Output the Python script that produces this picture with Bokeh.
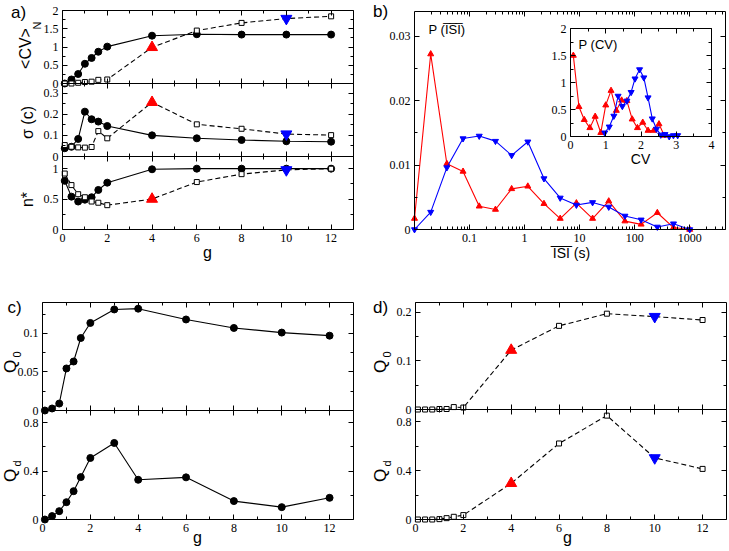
import math
from bokeh.plotting import figure
from bokeh.models import (Range1d, LinearAxis, LogAxis, FixedTicker, CustomJSTickFormatter,
                          Label, LinearScale, LogScale)
from bokeh.embed import file_html
from bokeh.resources import INLINE

# ---------------- data ----------------
g = [0.1, 0.4, 0.7, 1.0, 1.3, 1.6, 2, 4, 6, 8, 10, 12]
cv_solid = [0.0, 0.11, 0.26, 0.54, 0.70, 0.87, 1.01, 1.31, 1.35, 1.34, 1.34, 1.34]
cv_dash = [0.0, 0.0, 0.02, 0.04, 0.05, 0.10, 0.11, 0.99, 1.45, 1.66, 1.78, 1.84]
sig_solid = [0.039, 0.046, 0.083, 0.212, 0.176, 0.165, 0.144, 0.100, 0.086, 0.078, 0.072, 0.070]
sig_dash = [0.054, 0.046, 0.043, 0.042, 0.045, 0.120, 0.086, 0.256, 0.152, 0.131, 0.106, 0.101]
n_solid = [0.80, 0.54, 0.46, 0.49, 0.53, 0.65, 0.77, 0.99, 1.0, 1.0, 1.0, 1.0]
n_dash = [0.92, 0.73, 0.58, 0.53, 0.46, 0.44, 0.40, 0.50, 0.78, 0.91, 0.98, 1.0]
RED_G = 4
BLUE_G = 10

isi_x = [0.01, 0.0197, 0.0387, 0.0762, 0.150, 0.296, 0.582, 1.145, 2.25, 4.44, 8.74,
         17.2, 33.8, 66.6, 131, 258, 508, 1000]
p_isi_red = [0.0017, 0.0272, 0.0102, 0.0090, 0.0036, 0.0031, 0.0063, 0.0067, 0.0040, 0.0017,
             0.0041, 0.0017, 0.0044, 0.0013, 0.0008, 0.0026, 0.0003, 0.0]
p_isi_blue = [0.0, 0.0027, 0.0096, 0.0141, 0.0145, 0.0137, 0.0115, 0.0136, 0.0079, 0.0049,
              0.0038, 0.0042, 0.0035, 0.0021, 0.0015, 0.0004, 0.0009, 0.0]

cv_red_x = [0.08, 0.24, 0.39, 0.55, 0.70, 0.86, 1.0, 1.15, 1.3, 1.45, 1.6, 1.75, 1.9, 2.05,
            2.2, 2.36, 2.51, 2.66]
cv_red_y = [1.50, 0.55, 0.31, 0.16, 0.37, 0.07, 0.58, 0.85, 0.48, 0.67, 0.66, 0.32, 0.16,
            0.26, 0.11, 0.11, 0.23, 0.02]
cv_blue_x = [0.97, 1.10, 1.23, 1.35, 1.47, 1.60, 1.72, 1.83, 1.96, 2.08, 2.20, 2.32, 2.44,
             2.56, 2.68, 2.80, 2.92, 3.04]
cv_blue_y = [0.07, 0.18, 0.38, 0.75, 0.56, 0.66, 0.82, 1.07, 1.24, 1.09, 0.72, 0.33, 0.14,
             0.03, 0.04, 0.0, 0.02, 0.02]

gc = [0.1, 0.4, 0.7, 1.0, 1.3, 1.6, 2, 3, 4, 6, 8, 10, 12]
q0_c = [0.0, 0.0026, 0.009, 0.0545, 0.0635, 0.094, 0.1135, 0.131, 0.132, 0.118, 0.107, 0.101, 0.097]
qd_c = [0.0, 0.028, 0.069, 0.143, 0.234, 0.35, 0.508, 0.632, 0.328, 0.348, 0.152, 0.102, 0.179]

q0_d = [0.0, 0.0, 0.0, 0.001, 0.001, 0.005, 0.004, 0.122, 0.172, 0.197, 0.191, 0.184]
qd_d = [0.0, 0.0, 0.0, 0.003, 0.011, 0.022, 0.036, 0.296, 0.622, 0.85, 0.504, 0.414]

g_ticks = [0, 2, 4, 6, 8, 10, 12]
g_minor = [1, 3, 5, 7, 9, 11]

RED = "#ff0000"
BLUE = "#0000ff"
SERIF = "'Liberation Serif'"
SANS = "'Liberation Sans'"
FMT = "return String(Math.round(tick*1e6)/1e6);"

# ---------------- one canvas, one coordinate system per sub-plot ----------------
W, H = 728, 550
p = figure(width=W, height=H, x_range=Range1d(0, W), y_range=Range1d(H, 0),
           x_axis_location=None, y_axis_location=None, toolbar_location=None,
           output_backend="svg", min_border=0)
p.xgrid.visible = False
p.ygrid.visible = False
p.outline_line_color = None
p.background_fill_color = "white"
p.border_fill_color = "white"

XR, YR, XS, YS = {}, {}, {}, {}


def subplot(name, box, xd, yd, xlog=False):
    """box = (left, top, right, bottom) in canvas pixels; xd/yd = data extent."""
    L, T, R, B = box
    x0, x1 = (math.log10(xd[0]), math.log10(xd[1])) if xlog else xd
    kx = (x1 - x0) / (R - L)
    xs, xe = x0 - L * kx, x0 + (W - L) * kx
    if xlog:
        xs, xe = 10 ** xs, 10 ** xe
    y0, y1 = yd
    ky = (y1 - y0) / (B - T)
    ys, ye = y0 - (H - B) * ky, y1 + T * ky
    XR[name] = Range1d(xs, xe)
    YR[name] = Range1d(ys, ye)
    XS[name] = LogScale() if xlog else LinearScale()
    YS[name] = LinearScale()
    return dict(x_range_name=name, y_range_name=name)


def add_axis(name, side, ticks, minor, loc, labels, bounds, log=False, line=True):
    cls = LogAxis if log else LinearAxis
    ax = cls(ticker=FixedTicker(ticks=ticks, minor_ticks=minor),
             formatter=CustomJSTickFormatter(code=FMT),
             fixed_location=loc, x_range_name=name, y_range_name=name, bounds=bounds,
             axis_line_color="black" if line else None, axis_line_width=1,
             major_tick_in=5, major_tick_out=0, minor_tick_in=3, minor_tick_out=0,
             major_tick_line_color="black", minor_tick_line_color="black",
             major_label_standoff=4, major_label_text_font=SERIF,
             major_label_text_font_size="12px",
             major_label_text_color="black" if labels else None)
    p.add_layout(ax, side)


def frame(name, xd, yd, xt, xm, yt, ym, xlab, log=False):
    add_axis(name, "below", xt, xm, yd[0], xlab, xd, log=log)
    add_axis(name, "above", xt, xm, yd[1], False, xd, log=log)
    add_axis(name, "left", yt, ym, xd[0], True, yd)
    add_axis(name, "right", yt, ym, xd[1], False, yd)


def label(x, y, text, size, angle=0.0, align="center", font=SANS):
    p.add_layout(Label(x=x, y=y, text=text, angle=angle, text_align=align,
                       text_baseline="middle", text_font=font, text_font_size=size,
                       text_color="black"))


def solid_series(kw, x, y):
    p.line(x, y, line_color="black", line_width=1.1, **kw)
    p.scatter(x, y, marker="circle", size=7, fill_color="black", line_color="black", **kw)


def dashed_series(kw, x, y):
    p.line(x, y, line_color="black", line_width=1.1, line_dash="5 3", **kw)
    idx = [i for i, xi in enumerate(x) if xi not in (RED_G, BLUE_G)]
    p.scatter([x[i] for i in idx], [y[i] for i in idx], marker="square", size=5,
              fill_color="white", line_color="black", line_width=1, **kw)
    ir = x.index(RED_G)
    ib = x.index(BLUE_G)
    p.scatter([x[ir]], [y[ir]], marker="triangle", size=11, fill_color=RED, line_color=RED, **kw)
    p.scatter([x[ib]], [y[ib]], marker="inverted_triangle", size=11, fill_color=BLUE,
              line_color=BLUE, **kw)


PI2 = math.pi / 2
GX = (0, 13)

# ---------------- panel a ----------------
A1Y, A2Y, A3Y = (0, 2), (0, 0.345), (0, 1.2)
ka1 = subplot("a1", (62, 10, 353, 83), GX, A1Y)
ka2 = subplot("a2", (62, 83, 353, 156), GX, A2Y)
ka3 = subplot("a3", (62, 156, 353, 229), GX, A3Y)
frame("a1", GX, A1Y, g_ticks, g_minor, [0, 0.5, 1, 1.5, 2], [0.25, 0.75, 1.25, 1.75], False)
frame("a2", GX, A2Y, g_ticks, g_minor, [0, 0.1, 0.2, 0.3], [0.05, 0.15, 0.25], False)
frame("a3", GX, A3Y, g_ticks, g_minor, [0, 0.5, 1], [0.25, 0.75], True)

solid_series(ka1, g, cv_solid)
dashed_series(ka1, g, cv_dash)
solid_series(ka2, g, sig_solid)
dashed_series(ka2, g, sig_dash)
solid_series(ka3, g, n_solid)
dashed_series(ka3, g, n_dash)

label(18, 12, "a)", "17px")
label(25, 48, "<CV>", "16px", angle=PI2)
label(36, 25, "N", "11px", angle=PI2)
label(27, 122, "\u03c3 (c)", "16px", angle=PI2)
label(27, 199, "n*", "16px", angle=PI2)
label(207, 252, "g", "16px")

# ---------------- panel b ----------------
BX, BY = (0.01, 4470), (0, 0.0338)
kb = subplot("b", (414, 11, 725, 229), BX, BY, xlog=True)
log_minor = [k * 10.0 ** e for e in range(-2, 4) for k in range(2, 10)]
frame("b", BX, BY, [0.1, 1, 10, 100, 1000], log_minor,
      [0, 0.01, 0.02, 0.03], [0.005, 0.015, 0.025], True, log=True)

p.line(isi_x, p_isi_red, line_color=RED, line_width=1.1, **kb)
p.scatter(isi_x, p_isi_red, marker="triangle", size=6, fill_color=RED, line_color=RED, **kb)
p.line(isi_x, p_isi_blue, line_color=BLUE, line_width=1.1, **kb)
p.scatter(isi_x, p_isi_blue, marker="inverted_triangle", size=6, fill_color=BLUE,
          line_color=BLUE, **kb)

# inset
IX, IY = (0, 4), (0, 2)
ki = subplot("i", (570, 28, 711, 136), IX, IY)
p.quad(left=IX[0], right=IX[1], bottom=IY[0], top=IY[1], fill_color="white",
       line_color=None, **ki)
p.line(cv_red_x, cv_red_y, line_color=RED, line_width=1.1, **ki)
p.scatter(cv_red_x, cv_red_y, marker="triangle", size=6, fill_color=RED, line_color=RED, **ki)
p.line(cv_blue_x, cv_blue_y, line_color=BLUE, line_width=1.1, **ki)
p.scatter(cv_blue_x, cv_blue_y, marker="inverted_triangle", size=6, fill_color=BLUE,
          line_color=BLUE, **ki)
frame("i", IX, IY, [0, 1, 2, 3, 4], [0.5, 1.5, 2.5, 3.5],
      [0, 0.5, 1, 1.5, 2], [0.25, 0.75, 1.25, 1.75], True)

ISI = "I\u0305S\u0305I\u0305"
label(380, 11, "b)", "17px")
label(428, 29, "P (" + ISI + ")", "13px", align="left")
label(578, 44, "P (CV)", "13px", align="left")
label(640, 158, "CV", "14px")
label(571, 252, ISI + " (s)", "14px")

# ---------------- panel c ----------------
C1Y, C2Y = (0, 0.14), (0, 0.9)
kc1 = subplot("c1", (42, 302, 353, 410), GX, C1Y)
kc2 = subplot("c2", (42, 410, 353, 519), GX, C2Y)
frame("c1", GX, C1Y, g_ticks, g_minor, [0, 0.05, 0.1], [0.025, 0.075, 0.125], False)
frame("c2", GX, C2Y, g_ticks, g_minor, [0, 0.4, 0.8], [0.2, 0.6], True)
solid_series(kc1, gc, q0_c)
solid_series(kc2, gc, qd_c)

label(14, 307, "c)", "17px")
label(10, 366, "Q", "17px", angle=PI2)
label(16, 354, "0", "11px", angle=PI2)
label(10, 475, "Q", "17px", angle=PI2)
label(16, 463, "d", "11px", angle=PI2)
label(197, 537, "g", "16px")

# ---------------- panel d ----------------
D1Y, D2Y = (0, 0.22), (0, 0.9)
kd1 = subplot("d1", (415, 302, 726, 409), GX, D1Y)
kd2 = subplot("d2", (415, 409, 726, 519), GX, D2Y)
frame("d1", GX, D1Y, g_ticks, g_minor, [0, 0.1, 0.2], [0.05, 0.15], False)
frame("d2", GX, D2Y, g_ticks, g_minor, [0, 0.4, 0.8], [0.2, 0.6], True)
dashed_series(kd1, g, q0_d)
dashed_series(kd2, g, qd_d)

label(380, 307, "d)", "17px")
label(380, 366, "Q", "17px", angle=PI2)
label(386, 354, "0", "11px", angle=PI2)
label(380, 475, "Q", "17px", angle=PI2)
label(386, 463, "d", "11px", angle=PI2)
label(567, 537, "g", "16px")

p.extra_x_ranges = XR
p.extra_y_ranges = YR
p.extra_x_scales = XS
p.extra_y_scales = YS

open("out.html", "w").write(file_html(p, INLINE))
